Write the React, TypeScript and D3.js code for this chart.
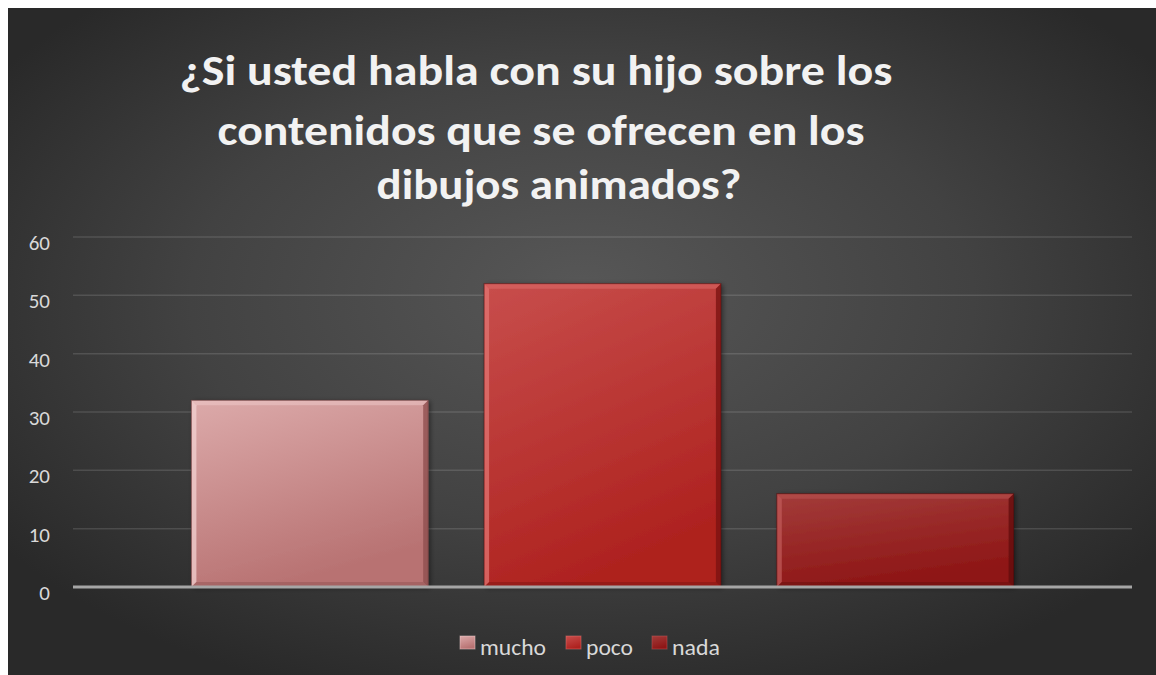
import React from "react";
import * as d3 from "d3";

const titleLines = [
  "¿Si usted habla con su hijo sobre los",
  "contenidos que se ofrecen en los",
  "dibujos animados?",
];
const categories = ["Respuestas"];
const seriesNames = ["mucho", "poco", "nada"];
const seriesValues = [32, 52, 16];
const yTicks = [0, 10, 20, 30, 40, 50, 60];

const W = 1148;
const H = 667;
const OX = 8;
const OY = 8;

const seriesColors = [
  { top: "#dcaaaa", bottom: "#b87272", light: "#f2d0d0", dark: "#8e4f4f", edge: "#6e3b3b" },
  { top: "#c84e4c", bottom: "#ae221f", light: "#e27472", dark: "#7c1312", edge: "#5a0e0d" },
  { top: "#a33c3a", bottom: "#8e1616", light: "#c05a58", dark: "#630d0c", edge: "#470808" },
];

const FONT = "Carlito, Calibri, Lato, 'Open Sans', sans-serif";

export default function App() {
  const x0 = d3.scaleBand<string>().domain(categories).range([73 - OX, 1132 - OX]).padding(0);
  const x1 = d3
    .scaleBand<string>()
    .domain(seriesNames)
    .range([x0(categories[0])!, x0(categories[0])! + x0.bandwidth()])
    .paddingInner(0.191)
    .paddingOuter(0.4045);
  const y = d3.scaleLinear().domain([0, 60]).range([587 - OY, 237 - OY]);

  const titleCenters = [536 - OX, 541 - OX, 559 - OX];
  const titleBaselines = [85 - OY, 145 - OY, 199 - OY];
  const titleWidths = [713, 647, 365];

  const legendX = [460 - OX, 566 - OX, 652 - OX];
  const legendY = 648 - OY;
  const legendTextW = [66, 47, 48];

  const bw = x1.bandwidth();
  const bev = 5;

  return (
    <svg
      width={W}
      height={H}
      style={{ position: "absolute", left: OX, top: OY, display: "block" }}
      fontFamily={FONT}
    >
      <defs>
        <radialGradient id="bg" cx="0.5" cy="0.45" r="0.62" fx="0.5" fy="0.42">
          <stop offset="0" stopColor="#575757" />
          <stop offset="0.55" stopColor="#424242" />
          <stop offset="1" stopColor="#292929" />
        </radialGradient>
        {seriesColors.map((c, i) => (
          <linearGradient key={i} id={`g${i}`} x1="0" y1="0" x2="0.35" y2="1">
            <stop offset="0" stopColor={c.top} />
            <stop offset="1" stopColor={c.bottom} />
          </linearGradient>
        ))}
        <filter id="sh" x="-10%" y="-10%" width="120%" height="120%">
          <feDropShadow dx="2" dy="1" stdDeviation="2.5" floodColor="#000" floodOpacity="0.45" />
        </filter>
      </defs>
      <rect x={0} y={0} width={W} height={H} fill="url(#bg)" />

      {titleLines.map((t, i) => (
        <text
          key={i}
          x={titleCenters[i]}
          y={titleBaselines[i]}
          textAnchor="middle"
          fontSize={42}
          fontWeight="bold"
          fill="#f2f2f2"
          textLength={titleWidths[i]}
          lengthAdjust="spacingAndGlyphs"
        >
          {t}
        </text>
      ))}

      {yTicks.map((t) => (
        <g key={t}>
          {t !== 0 && (
            <line x1={73 - OX} x2={1132 - OX} y1={y(t)} y2={y(t)} stroke="#ffffff" strokeOpacity={0.13} strokeWidth={1.5} />
          )}
          <text x={50 - OX} y={y(t) + 13} textAnchor="end" fontSize={21} fill="#d9d9d9">
            {t}
          </text>
        </g>
      ))}

      {seriesNames.map((s, i) => {
        const bx = x1(s)!;
        const by = y(seriesValues[i]);
        const bh = y(0) - by;
        const c = seriesColors[i];
        return (
          <g key={s}>
            <rect x={bx} y={by} width={bw} height={bh} fill={`url(#g${i})`} filter="url(#sh)" />
            <polygon
              points={`${bx},${by} ${bx + bw},${by} ${bx + bw - bev},${by + bev} ${bx + bev},${by + bev}`}
              fill={c.light}
              opacity={0.45}
            />
            <polygon
              points={`${bx},${by} ${bx + bev},${by + bev} ${bx + bev},${by + bh - bev} ${bx},${by + bh}`}
              fill={c.light}
              opacity={0.75}
            />
            <polygon
              points={`${bx + bw},${by} ${bx + bw},${by + bh} ${bx + bw - bev},${by + bh - bev} ${bx + bw - bev},${by + bev}`}
              fill={c.dark}
              opacity={0.8}
            />
            <polygon
              points={`${bx},${by + bh} ${bx + bev},${by + bh - bev} ${bx + bw - bev},${by + bh - bev} ${bx + bw},${by + bh}`}
              fill={c.dark}
              opacity={0.45}
            />
            <rect x={bx} y={by} width={bw} height={bh} fill="none" stroke={c.edge} strokeOpacity={0.6} strokeWidth={1} />
          </g>
        );
      })}

      <line x1={73 - OX} x2={1132 - OX} y1={y(0)} y2={y(0)} stroke="#a6a6a6" strokeWidth={3} />

      {seriesNames.map((s, i) => {
        const c = seriesColors[i];
        const lx = legendX[i];
        return (
          <g key={s}>
            <rect x={lx} y={legendY - 12} width={15} height={13} fill={`url(#g${i})`} />
            <rect x={lx} y={legendY - 12} width={15} height={13} fill="none" stroke={c.light} strokeOpacity={0.5} />
            <text
              x={lx + 20}
              y={legendY + 7}
              fontSize={22}
              fill="#d9d9d9"
              textLength={legendTextW[i]}
              lengthAdjust="spacingAndGlyphs"
            >
              {s}
            </text>
          </g>
        );
      })}
    </svg>
  );
}
